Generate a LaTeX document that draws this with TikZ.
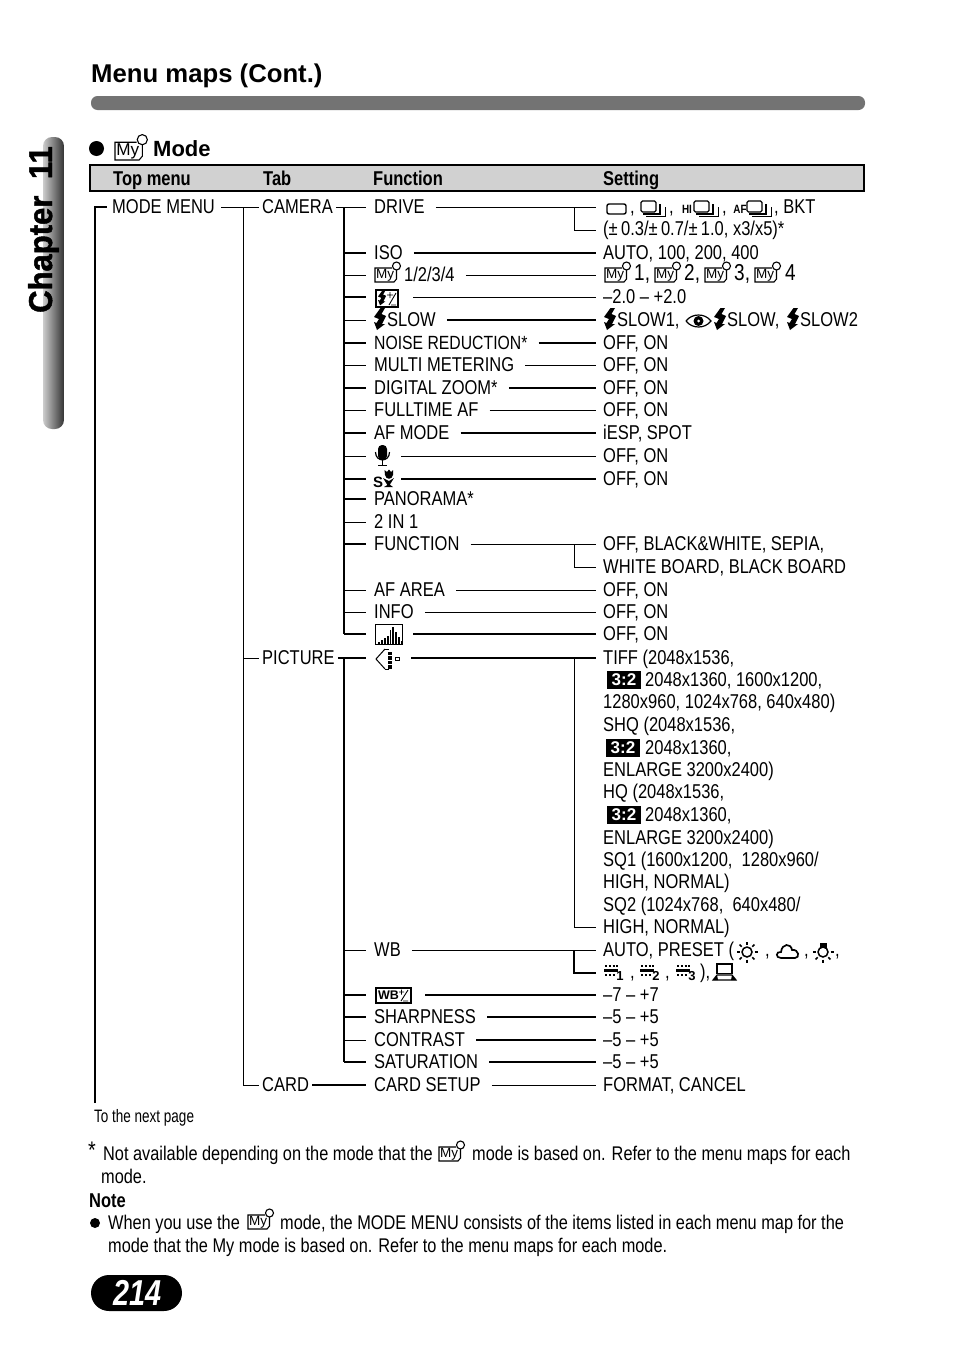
\documentclass[tikz,border=0pt]{standalone}
\usepackage{fontspec}
\setmainfont[FakeStretch=0.825]{Liberation Sans}
\newfontfamily\plainfont{Liberation Sans}
\newfontfamily\smallfont[FakeStretch=0.75]{Liberation Sans}
\newfontfamily\pagefont[FakeStretch=0.8]{Liberation Sans}
\newfontfamily\chapfont[FakeBold=1.5, FakeStretch=0.94]{Liberation Sans}

\tikzset{
  % text rows
  txt/.style={anchor=west, inner xsep=0pt, inner ysep=0pt, text height=13.5pt, text depth=0pt,
    font=\fontsize{20}{24}\selectfont},
  fn/.style={txt, inner xsep=8pt},
  val/.style={txt, inner xsep=7pt},
  headtxt/.style={anchor=base west, inner sep=0pt, font=\fontsize{20}{24}\selectfont\bfseries},
  note/.style={anchor=base west, inner sep=0pt, font=\fontsize{19.8}{24}\selectfont},
  tiny/.style={inner sep=0pt, font=\fontsize{12}{12}\selectfont\bfseries},
  % connectors
  ln/.style={line width=0.9pt},
  lnb/.style={line width=1.5pt},
  fromtxt/.style={shorten <=3pt},
  % icons, origin at lower left
  myicon/.pic={
    \draw[line width=1.1pt] (17,-14) -- (0,-14) -- (0,0) -- (19,0) -- (21.5,-3) -- (21.5,-12);
    \draw[line width=1.1pt] (21.5,-16) circle[radius=4];
    \node[inner sep=0pt, font=\plainfont\fontsize{13.5}{14}\selectfont] (-lab) at (10,-6.5) {My};
  },
  bolt/.pic={
    \fill (6.5,-20) -- (0,-11) -- (5,-9) -- (2.5,-5) -- (0,-6) -- (3,2) -- (11,-4) -- (8,-4)
      -- (12,-12) -- (7.5,-14) -- (11,-20) -- cycle;
  },
  flashbox/.pic={
    \draw[line width=1.2pt] (0,-17) rectangle (22,0);
    \pic[scale=0.68, transform shape] at (2,-3) {bolt};
    \draw[line width=0.9pt] (11,-12) -- (17,-12) (14,-15) -- (14,-9) (13,-2) -- (20,-14) (15,-2) -- (20,-2);
  },
  frameicon/.pic={
    \draw[line width=1.4pt, rounded corners=2pt] (0,-10) rectangle (19,0);
  },
  seqicon/.pic={
    \draw[line width=1.3pt, rounded corners=1.5pt] (0,-15) rectangle (15,-4);
    \draw[line width=1.1pt] (2,-2) -- (19,-2) -- (19,-12);
    \draw[line width=1pt] (5,0) -- (24,0) -- (24,-9);
  },
  eyeicon/.pic={
    \draw[line width=1.2pt] (0,-7) .. controls (6,-15) and (19,-15) .. (25,-7)
      .. controls (19,1) and (6,1) .. (0,-7);
    \fill (12.5,-7) circle[radius=5];
    \fill[white] (12.5,-7) circle[radius=1.5];
  },
  micicon/.pic={
    \fill[rounded corners=4pt] (3,-21) rectangle (12,-6);
    \draw[line width=1.2pt] (0.5,-14) .. controls (0.5,-3.5) and (14.5,-3.5) .. (14.5,-14);
    \draw[line width=1.2pt] (7.5,-6) -- (7.5,-1) (3,-0.5) -- (12,-0.5);
  },
  macroicon/.pic={
    \node[inner sep=0pt, font=\plainfont\fontsize{15}{15}\selectfont\bfseries] (-s) at (4,-5) {S};
    \fill (9,-9) -- (14,-1) -- (15,-1) -- (20,-9) -- (15,-6) -- cycle (10,0) -- (19,0) -- (15,-3) -- cycle;
    \fill (11,-12) -- (10.5,-17) -- (13,-15) -- (15,-17.5) -- (17,-15) -- (19,-17) -- (19,-12)
      .. controls (18,-7) and (12,-7) .. (11,-12);
  },
  histicon/.pic={
    \draw[line width=0.8pt] (0,-20) rectangle (27,0);
    \foreach \bx/\bh in {3/2, 6/4, 9/6, 12/8, 14.5/14, 17/17, 20/12, 23/7, 25.5/3}
      \fill (\bx,0) rectangle ++(1.5,-\bh);
  },
  rawicon/.pic={
    \draw[line width=1pt] (9,-20) -- (0,-10) -- (9,0);
    \draw[line width=1pt] (9,-20) -- (13,-20) (9,0) -- (13,0);
    \foreach \by in {-17,-12.5,-8,-3.5}
      \draw[line width=0.7pt, fill=black] (12.5,\by) rectangle ++(3,2.5);
    \draw[line width=0.7pt] (19,-12) rectangle ++(4,3.5);
  },
  wbbox/.pic={
    \draw[line width=1.2pt] (0,-15) rectangle (35,0);
    \node[inner sep=0pt, font=\plainfont\fontsize{12.5}{12.5}\selectfont\bfseries] (-lab) at (12.5,-7.5) {WB};
    \draw[line width=0.9pt] (23,-11) -- (28,-11) (25.5,-13.5) -- (25.5,-8.5) (25,-2) -- (32,-13) (27,-2) -- (32,-2);
  },
  sunicon/.pic={
    \draw[line width=1.5pt] (0,0) circle[radius=5];
    \foreach \ang in {0,45,...,315}
      \draw[line width=1.7pt] (\ang:7.5) -- (\ang:10.5);
  },
  cloudicon/.pic={
    \draw[line width=1.7pt] (4,0) .. controls (-2,0) and (-1,-7) .. (4,-6) .. controls (5,-15) and (14,-15) .. (15,-8)
      .. controls (22,-9) and (23,0) .. (18,0) -- cycle;
  },
  bulbicon/.pic={
    \draw[line width=1.5pt] (0,0) circle[radius=5];
    \fill (-3.5,-9.5) rectangle (3.5,-4);
    \foreach \ang in {0,45,90,135,180}
      \draw[line width=1.7pt] (\ang:7.5) -- (\ang:10.5);
  },
  fluoricon/.pic={
    \fill (0,-9.5) rectangle (14,-6.5);
    \draw[line width=1.6pt, dash pattern=on 2pt off 1.8pt] (1,-12) -- (14,-12) (1,-3) -- (12,-3);
  },
  customicon/.pic={
    \draw[line width=1.6pt] (4,-6.5) rectangle (19,-16);
    \draw[line width=1.1pt] (0,0) -- (23,0) -- (19,-5) -- (4,-5) -- cycle;
    \fill (0,0) -- (4,-5) -- (5,0) -- cycle (23,0) -- (19,-5) -- (18,0) -- cycle;
  },
  ratiobox/.style={fill=black, text=white, inner sep=0pt, minimum height=18pt, minimum width=34pt,
    font=\plainfont\fontsize{17}{17}\selectfont\bfseries},
}

\begin{document}
\begin{tikzpicture}[x=1pt, y=-1pt]
  \useasboundingbox (0,0) rectangle (954,1346);

  % Page heading
  \node[anchor=base west, inner sep=0pt, font=\plainfont\fontsize{25.7}{30}\selectfont\bfseries] (title) at (91,82) {Menu maps (Cont.)};
  \fill[fill=black!55, rounded corners=6.5pt] (91,96) rectangle (865,110);

  % Chapter tab
  \shade[left color=black!20, right color=black!80, rounded corners=9pt] (43,137) rectangle (64,429);
  \node[anchor=base west, rotate=90, inner sep=0pt, font=\chapfont\fontsize{33}{36}\selectfont\bfseries] (chapter) at (52,313) {Chapter\hspace{8pt} 11};

  % Section title
  \fill (96.5,148.5) circle[radius=7.5];
  \pic[scale=1.27, transform shape] at (115,160) {myicon};
  \node[anchor=base west, inner sep=0pt, font=\plainfont\fontsize{22}{26}\selectfont\bfseries] (modetitle) at (153,156) {Mode};

  % Table head
  \draw[line width=1.6pt, fill=black!18] (90,165) rectangle (864,191);
  \node[headtxt] (htop) at (113,185) {Top menu};
  \node[headtxt] (htab) at (263,185) {Tab};
  \node[headtxt] (hfunc) at (373,185) {Function};
  \node[headtxt] (hset) at (603,185) {Setting};

  % Top menu and tabs
  \coordinate (topspine) at (95,1103);
  \coordinate (tabspine) at (243,1085);
  \coordinate (camspine) at (344,634);
  \coordinate (picspine) at (344,1062);
  \node[txt, inner xsep=6pt] (modemenu) at (106,207) {MODE MENU};
  \node[txt, inner xsep=3pt] (camera) at (259,207) {CAMERA};
  \node[txt, inner xsep=3pt] (picture) at (259,658) {PICTURE};
  \node[txt, inner xsep=3pt] (card) at (259,1085) {CARD};
  \draw[lnb] (topspine) -- (topspine |- modemenu.west) -- (107,207);
  \draw[ln] (modemenu.east) -- (camera.west);
  \draw[ln] (tabspine |- modemenu.west) -- (tabspine) -- (card.west);
  \draw[ln] (tabspine |- picture.west) -- (picture.west);
  \draw[lnb] (camspine |- camera.east) -- (camspine);
  \draw[lnb] (picspine |- picture.east) -- (picspine);

  % CAMERA rows
  \node[fn] (fdrive) at (366,207) {DRIVE};
  \coordinate (vdrive) at (596,207);
  \draw[ln] (camera.east) -- (fdrive.west);
  \draw[ln, fromtxt] (fdrive.east) -- (vdrive);
  \draw[ln] (574,207) |- (596,230);
  \pic at (607,214) {frameicon};
  \node[txt] (d1) at (630,207) {,};
  \pic at (641,216) {seqicon};
  \node[txt] (d2) at (669,207) {,};
  \node[tiny] (dhi) at (687,209) {HI};
  \pic at (694,216) {seqicon};
  \node[txt] (d3) at (722,207) {,};
  \node[tiny] (daf) at (740,209) {AF};
  \pic at (747,216) {seqicon};
  \node[txt] (d4) at (774,207) {, BKT};
  \node[val] (vdrive2) at (596,229) {(±\,0.3/±\,0.7/±\,1.0, x3/x5)*};

  \node[fn] (fiso) at (366,253) {ISO};
  \node[val] (viso) at (596,253) {AUTO, 100, 200, 400};
  \draw[lnb] (camspine |- fiso.west) -- (fiso.west);
  \draw[lnb, fromtxt] (fiso.east) -- (viso.west);

  \coordinate (cmy) at (366,275);
  \coordinate (vmy) at (596,275);
  \pic at (375,282) {myicon};
  \node[fn] (fmy) at (396,275) {1/2/3/4};
  \draw[ln] (camspine |- cmy) -- (cmy);
  \draw[ln, fromtxt] (fmy.east |- cmy) -- (vmy);
  \pic at (605,282) {myicon};
  \node[txt] (m1) at (634,274) {\fontsize{23}{24}\selectfont 1,};
  \pic at (655,282) {myicon};
  \node[txt] (m2) at (684,274) {\fontsize{23}{24}\selectfont 2,};
  \pic at (705,282) {myicon};
  \node[txt] (m3) at (734,274) {\fontsize{23}{24}\selectfont 3,};
  \pic at (755,282) {myicon};
  \node[txt] (m4) at (785,274) {\fontsize{23}{24}\selectfont 4};

  \coordinate (cflash) at (366,297);
  \coordinate (rflash) at (413,297);
  \pic at (376,307) {flashbox};
  \node[val] (vflash) at (596,297) {–2.0 – +2.0};
  \draw[lnb] (camspine |- cflash) -- (cflash);
  \draw[ln] (rflash) -- (vflash.west);

  \coordinate (cslow) at (366,320);
  \pic at (374,328) {bolt};
  \node[fn] (fslow) at (379,320) {SLOW};
  \coordinate (vslow) at (596,320);
  \draw[ln] (camspine |- cslow) -- (cslow);
  \draw[lnb, fromtxt] (fslow.east) -- (vslow);
  \pic at (604,328) {bolt};
  \node[txt] (s1) at (617,320) {SLOW1,};
  \pic at (686,328) {eyeicon};
  \pic at (714,328) {bolt};
  \node[txt] (s2) at (727,320) {SLOW,};
  \pic at (787,328) {bolt};
  \node[txt] (s3) at (800,320) {SLOW2};

  \node[fn, font=\fontsize{19.1}{24}\selectfont] (fnoise) at (366,343) {NOISE REDUCTION*};
  \node[val] (vnoise) at (596,343) {OFF, ON};
  \draw[lnb] (camspine |- fnoise.west) -- (fnoise.west);
  \draw[lnb, fromtxt] (fnoise.east) -- (vnoise.west);

  \node[fn] (fmulti) at (366,365) {MULTI METERING};
  \node[val] (vmulti) at (596,365) {OFF, ON};
  \draw[ln] (camspine |- fmulti.west) -- (fmulti.west);
  \draw[ln, fromtxt] (fmulti.east) -- (vmulti.west);

  \node[fn] (fdigital) at (366,388) {DIGITAL ZOOM*};
  \node[val] (vdigital) at (596,388) {OFF, ON};
  \draw[lnb] (camspine |- fdigital.west) -- (fdigital.west);
  \draw[lnb, fromtxt] (fdigital.east) -- (vdigital.west);

  \node[fn] (ffull) at (366,410) {FULLTIME AF};
  \node[val] (vfull) at (596,410) {OFF, ON};
  \draw[ln] (camspine |- ffull.west) -- (ffull.west);
  \draw[ln, fromtxt] (ffull.east) -- (vfull.west);

  \node[fn] (faf) at (366,433) {AF MODE};
  \node[val] (vaf) at (596,433) {iESP, SPOT};
  \draw[lnb] (camspine |- faf.west) -- (faf.west);
  \draw[lnb, fromtxt] (faf.east) -- (vaf.west);

  \coordinate (cmic) at (366,456);
  \coordinate (rmic) at (401,456);
  \pic at (375,466) {micicon};
  \node[val] (vmic) at (596,456) {OFF, ON};
  \draw[ln] (camspine |- cmic) -- (cmic);
  \draw[ln] (rmic) -- (vmic.west);

  \coordinate (cmacro) at (366,479);
  \coordinate (rmacro) at (401,479);
  \pic at (374,487) {macroicon};
  \node[val] (vmacro) at (596,479) {OFF, ON};
  \draw[lnb] (camspine |- cmacro) -- (cmacro);
  \draw[lnb] (rmacro) -- (vmacro.west);

  \node[fn] (fpano) at (366,499) {PANORAMA*};
  \draw[lnb] (camspine |- fpano.west) -- (fpano.west);

  \node[fn] (f2in1) at (366,522) {2 IN 1};
  \draw[ln] (camspine |- f2in1.west) -- (f2in1.west);

  \node[fn] (ffunc) at (366,544) {FUNCTION};
  \node[val] (vfunc) at (596,544) {OFF, BLACK\&WHITE, SEPIA,};
  \node[val] (vfunc2) at (596,567) {WHITE BOARD, BLACK BOARD};
  \draw[lnb] (camspine |- ffunc.west) -- (ffunc.west);
  \draw[ln, fromtxt] (ffunc.east) -- (vfunc.west);
  \draw[ln] (574,544) |- (vfunc2.west);

  \node[fn] (farea) at (366,590) {AF AREA};
  \node[val] (varea) at (596,590) {OFF, ON};
  \draw[ln] (camspine |- farea.west) -- (farea.west);
  \draw[ln, fromtxt] (farea.east) -- (varea.west);

  \node[fn] (finfo) at (366,612) {INFO};
  \node[val] (vinfo) at (596,612) {OFF, ON};
  \draw[ln] (camspine |- finfo.west) -- (finfo.west);
  \draw[ln, fromtxt] (finfo.east) -- (vinfo.west);

  \coordinate (chist) at (366,634);
  \coordinate (rhist) at (413,634);
  \pic at (375,644) {histicon};
  \node[val] (vhist) at (596,634) {OFF, ON};
  \draw[lnb] (camspine) -- (chist);
  \draw[lnb] (rhist) -- (vhist.west);

  % PICTURE rows
  \coordinate (craw) at (366,658);
  \coordinate (rraw) at (411,658);
  \pic at (376,669) {rawicon};
  \node[val] (vraw1) at (596,658) {TIFF (2048x1536,};
  \draw[lnb] (picture.east) -- (craw);
  \draw[lnb] (rraw) -- (vraw1.west);
  \draw[ln] (574,658) |- (596,927);
  \node[ratiobox] (r1) at (624,680) {3:2};
  \node[txt] (vraw2) at (645,680) {2048x1360, 1600x1200,};
  \node[val] (vraw3) at (596,702) {1280x960, 1024x768, 640x480)};
  \node[val] (vraw4) at (596,725) {SHQ (2048x1536,};
  \node[ratiobox] (r2) at (623,748) {3:2};
  \node[txt] (vraw5) at (645,748) {2048x1360,};
  \node[val] (vraw6) at (596,770) {ENLARGE 3200x2400)};
  \node[val] (vraw7) at (596,792) {HQ (2048x1536,};
  \node[ratiobox] (r3) at (624,815) {3:2};
  \node[txt] (vraw8) at (645,815) {2048x1360,};
  \node[val] (vraw9) at (596,838) {ENLARGE 3200x2400)};
  \node[val] (vraw10) at (596,860) {SQ1 (1600x1200,\ \ 1280x960/};
  \node[val] (vraw11) at (596,882) {HIGH, NORMAL)};
  \node[val] (vraw12) at (596,905) {SQ2 (1024x768,\ \ 640x480/};
  \node[val] (vraw13) at (596,927) {HIGH, NORMAL)};

  \node[fn] (fwb) at (366,950) {WB};
  \node[val] (vwb) at (596,950) {AUTO, PRESET (};
  \draw[ln] (picspine |- fwb.west) -- (fwb.west);
  \draw[ln, fromtxt] (fwb.east) -- (vwb.west);
  \draw[lnb] (574,950) |- (596,973);
  \pic at (747,952) {sunicon};
  \node[txt] (w1) at (765,950) {,};
  \pic at (777,958) {cloudicon};
  \node[txt] (w2) at (804,950) {,};
  \pic at (823,952) {bulbicon};
  \node[txt] (w3) at (835,950) {,};
  \pic at (604,978) {fluoricon};
  \node[tiny, font=\plainfont\fontsize{13}{13}\selectfont\bfseries] (n1) at (620,976) {1};
  \node[txt] (w4) at (630,972) {,};
  \pic at (640,978) {fluoricon};
  \node[tiny, font=\plainfont\fontsize{13}{13}\selectfont\bfseries] (n2) at (656,976) {2};
  \node[txt] (w5) at (665,972) {,};
  \pic at (676,978) {fluoricon};
  \node[tiny, font=\plainfont\fontsize{13}{13}\selectfont\bfseries] (n3) at (692,976) {3};
  \node[txt] (w6) at (700,972) {),};
  \pic at (713,980) {customicon};

  \coordinate (cwb) at (366,995);
  \coordinate (rwb) at (425,995);
  \pic at (376,1003) {wbbox};
  \node[val] (vwb2) at (596,995) {–7 – +7};
  \draw[lnb] (picspine |- cwb) -- (cwb);
  \draw[lnb] (rwb) -- (vwb2.west);

  \node[fn] (fsharp) at (366,1017) {SHARPNESS};
  \node[val] (vsharp) at (596,1017) {–5 – +5};
  \draw[lnb] (picspine |- fsharp.west) -- (fsharp.west);
  \draw[lnb, fromtxt] (fsharp.east) -- (vsharp.west);

  \node[fn] (fcont) at (366,1040) {CONTRAST};
  \node[val] (vcont) at (596,1040) {–5 – +5};
  \draw[ln] (picspine |- fcont.west) -- (fcont.west);
  \draw[lnb, fromtxt] (fcont.east) -- (vcont.west);

  \node[fn] (fsat) at (366,1062) {SATURATION};
  \node[val] (vsat) at (596,1062) {–5 – +5};
  \draw[lnb] (picspine) -- (fsat.west);
  \draw[lnb, fromtxt] (fsat.east) -- (vsat.west);

  % CARD row
  \node[fn] (fcard) at (366,1085) {CARD SETUP};
  \node[val] (vcard) at (596,1085) {FORMAT, CANCEL};
  \draw[lnb] (card.east) -- (fcard.west);
  \draw[ln, fromtxt] (fcard.east) -- (vcard.west);

  % Notes
  \node[anchor=base west, inner sep=0pt, font=\smallfont\fontsize{18}{20}\selectfont] (nextpage) at (94,1122) {To the next page};
  \node[anchor=base west, inner sep=0pt, font=\fontsize{24}{24}\selectfont] (star) at (88,1158) {*};
  \node[note] (n1a) at (103,1160) {Not available depending on the mode that the};
  \pic at (439,1161) {myicon};
  \node[note] (n1b) at (472,1160) {mode is based on. Refer to the menu maps for each};
  \node[note] (n1c) at (101,1183) {mode.};
  \node[note, font=\fontsize{20}{24}\selectfont\bfseries] (notehead) at (89,1207) {Note};
  \fill (95,1223) circle[radius=5];
  \node[note] (n2a) at (108,1229) {When you use the};
  \pic at (248,1229) {myicon};
  \node[note] (n2b) at (280,1229) {mode, the MODE MENU consists of the items listed in each menu map for the};
  \node[note] (n2c) at (108,1252) {mode that the My mode is based on. Refer to the menu maps for each mode.};

  % Page number
  \fill[rounded corners=18pt] (91,1275) rectangle (182,1311);
  \node[anchor=base, inner sep=0pt, text=white, font=\pagefont\fontsize{36}{40}\selectfont\bfseries\itshape] (pageno) at (137.5,1305) {214};
\end{tikzpicture}
\end{document}
